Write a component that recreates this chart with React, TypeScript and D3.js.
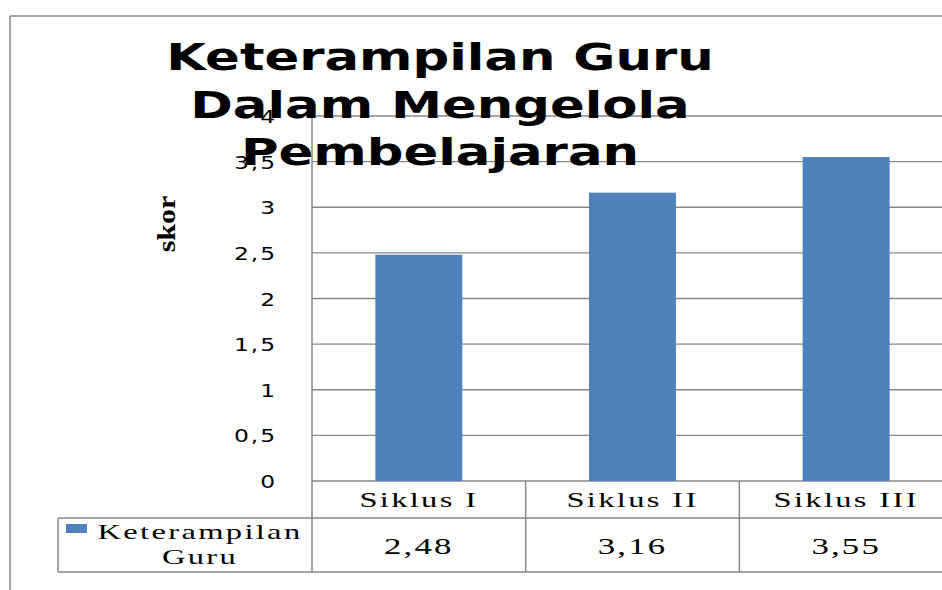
import React from 'react';
import * as d3 from 'd3';

// data
const categories = ['Siklus I', 'Siklus II', 'Siklus III'];
const values = [2.48, 3.16, 3.55];
const valueLabels = ['2,48', '3,16', '3,55'];
const yTicks = [0, 0.5, 1, 1.5, 2, 2.5, 3, 3.5, 4];
const titleLines = ['Keterampilan Guru', 'Dalam Mengelola', 'Pembelajaran'];
const seriesName = ['Keterampilan', 'Guru'];

const W = 942;
const H = 590;
const BLUE = '#4F81BD';
const GRID = '#878787';

// the source picture is stretched sideways, so every text gets a horizontal scale
const Stretch: React.FC<{
  x: number; y: number; sx: number; anchor?: string; family: string; size: number;
  weight?: string; spacing?: number; children: React.ReactNode;
}> = ({ x, y, sx, anchor = 'middle', family, size, weight = 'normal', spacing = 0, children }) => (
  <g transform={`translate(${x},${y}) scale(${sx},1)`}>
    <text x={0} y={0} textAnchor={anchor} fontFamily={family} fontSize={size} fontWeight={weight}
      letterSpacing={spacing} fill="#000">{children}</text>
  </g>
);

const App: React.FC = () => {
  // plot area
  const left = 312;
  const right = 953;
  const y = d3.scaleLinear().domain([0, 4]).range([481, 116]);
  const x = d3.scaleBand<string>()
    .domain(categories)
    .range([left, right])
    .paddingInner(0.593)
    .paddingOuter(0.2965);
  const step = x.step();
  const rowTop = y(0);
  const rowMid = 518;
  const rowBot = 572;
  const tableLeft = 58;

  const fmt = (v: number) => String(v).replace('.', ',');

  return (
    <svg width={W} height={H} style={{ position: 'absolute', left: 0, top: 0 }}>
      <rect x={0} y={0} width={W} height={H} fill="#fff" />
      {/* chart frame */}
      <line x1={10} y1={16} x2={W} y2={16} stroke={GRID} strokeWidth={1.5} />
      <line x1={10} y1={16} x2={10} y2={H} stroke={GRID} strokeWidth={1.5} />

      {/* gridlines */}
      {yTicks.map(t => (
        <line key={t} x1={left} x2={right} y1={y(t)} y2={y(t)} stroke={GRID} strokeWidth={1.3} />
      ))}
      {/* y axis */}
      <line x1={left} x2={left} y1={y(4)} y2={rowBot} stroke={GRID} strokeWidth={1.5} />

      {/* bars */}
      {categories.map((c, i) => (
        <rect key={c} x={x(c)} y={y(values[i])} width={x.bandwidth()} height={y(0) - y(values[i])} fill={BLUE} />
      ))}

      {/* y tick labels */}
      {yTicks.map(t => (
        <Stretch key={t} x={277} y={y(t) + 7} sx={1.3} anchor="end" family="DejaVu Sans" size={18}
          spacing={1.5}>{fmt(t)}</Stretch>
      ))}

      {/* y axis title */}
      <g transform="translate(175,224) rotate(-90) scale(1.2,1)">
        <text x={0} y={0} textAnchor="middle" fontFamily="Liberation Serif" fontWeight="bold"
          fontSize={25} fill="#000">skor</text>
      </g>

      {/* title */}
      {titleLines.map((l, i) => (
        <Stretch key={l} x={440} y={70 + i * 47.5} sx={1.35} family="DejaVu Sans" weight="bold"
          size={38}>{l}</Stretch>
      ))}

      {/* data table */}
      <line x1={tableLeft} x2={W} y1={rowMid} y2={rowMid} stroke={GRID} strokeWidth={1.5} />
      <line x1={tableLeft} x2={W} y1={rowBot} y2={rowBot} stroke={GRID} strokeWidth={1.5} />
      <line x1={tableLeft} x2={tableLeft} y1={rowMid} y2={rowBot} stroke={GRID} strokeWidth={1.5} />
      {categories.map((c, i) => (
        <line key={c} x1={left + (i + 1) * step} x2={left + (i + 1) * step} y1={rowTop} y2={rowBot}
          stroke={GRID} strokeWidth={1.5} />
      ))}
      {categories.map((c, i) => (
        <Stretch key={c} x={left + (i + 0.5) * step} y={507} sx={1.55} family="Liberation Serif"
          size={21} spacing={1.5}>{c}</Stretch>
      ))}
      {valueLabels.map((v, i) => (
        <Stretch key={v} x={left + (i + 0.5) * step} y={554} sx={1.45} family="Liberation Serif"
          size={24} spacing={1.5}>{v}</Stretch>
      ))}
      {/* legend key */}
      <rect x={66} y={524} width={21} height={9} fill={BLUE} />
      <Stretch x={200} y={539} sx={1.55} family="Liberation Serif" size={21} spacing={1.5}>{seriesName[0]}</Stretch>
      <Stretch x={200} y={564} sx={1.55} family="Liberation Serif" size={21} spacing={1.5}>{seriesName[1]}</Stretch>
    </svg>
  );
};

export default App;
